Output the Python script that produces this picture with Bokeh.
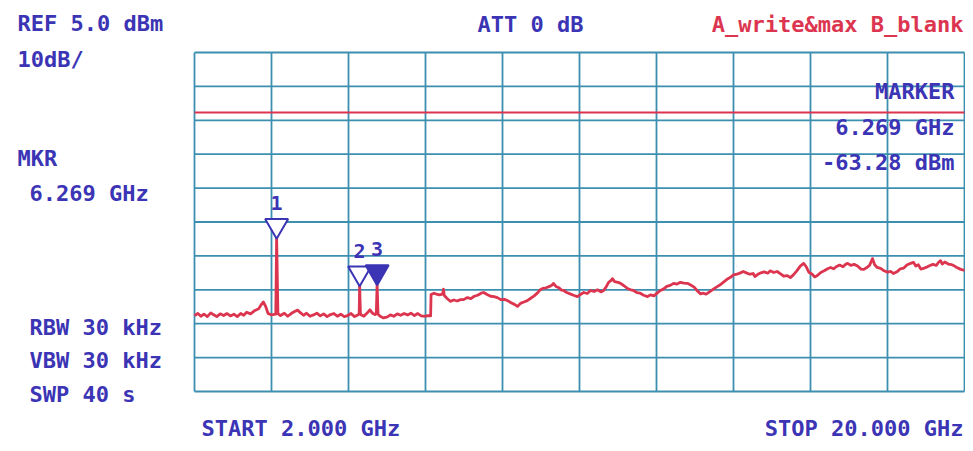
from bokeh.plotting import figure
from bokeh.models import Range1d, ColumnDataSource
from bokeh.embed import file_html
from bokeh.resources import INLINE
from bokeh.core.properties import value

# ---------------- instrument settings ----------------
START_GHZ = 2.0
STOP_GHZ = 20.0
REF_DBM = 5.0
DB_PER_DIV = 10.0
N_DIV = 10
display_line_dbm = -12.7

# ---------------- trace A (write & max) ----------------
freq_ghz = [
    2.00, 2.08, 2.15, 2.22, 2.30, 2.38, 2.44, 2.52, 2.60, 2.68, 2.76, 2.84, 2.92, 3.00,
    3.08, 3.15, 3.22, 3.31, 3.40, 3.50, 3.57, 3.61, 3.66, 3.72, 3.80, 3.90, 3.92, 3.95,
    4.01, 4.10, 4.18, 4.26, 4.34, 4.41, 4.48, 4.55, 4.62, 4.70, 4.78, 4.86, 4.94, 5.02,
    5.10, 5.18, 5.26, 5.34, 5.42, 5.50, 5.58, 5.66, 5.74, 5.82, 5.85, 5.86, 5.88, 5.96,
    6.04, 6.10, 6.16, 6.22, 6.25, 6.269, 6.29, 6.34, 6.42, 6.51, 6.58, 6.66, 6.74, 6.82,
    6.90, 6.98, 7.06, 7.14, 7.22, 7.30, 7.40, 7.45, 7.52, 7.53, 7.60, 7.66, 7.72, 7.80,
    7.82, 7.84, 7.90, 7.98, 8.06, 8.14, 8.22, 8.29, 8.38, 8.46, 8.54, 8.62, 8.70, 8.76,
    8.84, 8.92, 9.00, 9.08, 9.16, 9.24, 9.32, 9.40, 9.48, 9.55, 9.62, 9.70, 9.78, 9.86,
    9.94, 10.02, 10.08, 10.14, 10.22, 10.30, 10.36, 10.39, 10.45, 10.52, 10.58, 10.63,
    10.70, 10.78, 10.86, 10.95, 11.02, 11.10, 11.18, 11.26, 11.34, 11.42, 11.50, 11.56,
    11.62, 11.68, 11.74, 11.77, 11.82, 11.90, 11.96, 12.04, 12.12, 12.20, 12.26, 12.34,
    12.42, 12.50, 12.59, 12.66, 12.74, 12.82, 12.89, 12.96, 13.04, 13.12, 13.20, 13.28,
    13.36, 13.44, 13.52, 13.60, 13.68, 13.76, 13.83, 13.90, 13.96, 14.04, 14.13, 14.20,
    14.28, 14.36, 14.46, 14.52, 14.60, 14.68, 14.76, 14.83, 14.90, 14.98, 15.06, 15.10,
    15.16, 15.24, 15.32, 15.40, 15.46, 15.54, 15.62, 15.70, 15.78, 15.86, 15.93, 16.00,
    16.08, 16.16, 16.24, 16.30, 16.36, 16.44, 16.50, 16.56, 16.64, 16.72, 16.80, 16.87,
    16.94, 17.00, 17.08, 17.16, 17.22, 17.27, 17.34, 17.42, 17.50, 17.58, 17.64, 17.70,
    17.78, 17.85, 17.90, 17.96, 18.04, 18.12, 18.20, 18.28, 18.34, 18.42, 18.50, 18.58,
    18.66, 18.74, 18.81, 18.86, 18.92, 18.98, 19.04, 19.10, 19.18, 19.26, 19.34, 19.40,
    19.44, 19.48, 19.54, 19.62, 19.70, 19.74, 19.82, 19.90, 20.00,
]
level_dbm = [
    -72.6, -72.0, -72.8, -72.2, -72.9, -71.8, -72.3, -72.9, -72.1, -72.6, -72.0, -72.7, -72.2, -72.9,
    -72.0, -72.5, -71.6, -72.1, -71.2, -70.6, -69.2, -68.6, -69.8, -72.0, -72.4, -72.2, -49.6, -72.0,
    -72.6, -71.9, -72.8, -72.0, -71.4, -71.0, -71.8, -72.5, -71.9, -72.8, -72.4, -71.9, -72.7, -72.1,
    -72.9, -72.3, -72.0, -72.8, -72.2, -72.9, -72.6, -72.0, -72.9, -72.4, -72.1, -63.6, -72.3, -72.8,
    -71.8, -70.9, -71.9, -72.3, -72.0, -63.28, -72.2, -72.8, -73.3, -73.0, -72.4, -72.8, -72.1, -72.5,
    -72.0, -72.4, -71.9, -72.6, -72.0, -72.7, -72.8, -72.6, -72.7, -66.4, -66.0, -66.3, -66.5, -66.3,
    -64.8, -66.7, -67.5, -68.4, -68.0, -68.3, -67.9, -67.9, -67.3, -67.6, -66.9, -66.6, -66.0, -65.8,
    -66.4, -66.9, -67.0, -67.3, -67.9, -67.8, -68.2, -68.8, -69.3, -69.9, -69.0, -68.6, -68.2, -67.5,
    -66.8, -65.9, -65.0, -64.6, -64.4, -64.0, -63.6, -63.1, -64.0, -64.4, -65.1, -65.2,
    -65.8, -66.2, -66.6, -67.0, -66.4, -65.8, -66.1, -65.2, -65.5, -65.0, -65.6, -65.3,
    -64.2, -62.8, -62.2, -61.7, -62.6, -62.8, -63.1, -63.8, -64.6, -65.0, -65.2, -65.8,
    -66.0, -66.6, -67.0, -66.5, -66.8, -65.9, -65.2, -64.8, -64.0, -63.7, -63.1, -63.3,
    -62.8, -63.0, -63.1, -63.6, -64.2, -65.4, -66.2, -66.0, -66.3, -65.6, -64.8, -64.2,
    -63.6, -62.8, -61.8, -61.4, -60.6, -60.4, -60.0, -59.6, -60.0, -60.4, -60.2, -61.1,
    -60.5, -60.0, -59.7, -60.1, -59.4, -59.9, -59.6, -60.3, -61.0, -60.8, -61.4, -60.6,
    -59.4, -58.0, -57.2, -58.2, -59.8, -60.4, -61.2, -60.8, -59.9, -59.4, -58.8, -58.4,
    -58.8, -58.2, -57.7, -58.2, -57.5, -57.2, -57.8, -57.5, -58.0, -58.9, -59.0, -58.6,
    -57.8, -55.8, -57.6, -58.4, -58.7, -59.4, -59.8, -59.6, -60.2, -59.7, -58.8, -58.6,
    -57.6, -57.2, -56.9, -58.0, -57.6, -58.9, -58.7, -58.4, -57.9, -57.5, -57.8, -56.8,
    -56.4, -57.4, -56.8, -57.4, -57.6, -57.8, -58.4, -58.9, -59.3,
]

# ---------------- markers ----------------
marker_ids = ["1", "2", "3"]
marker_freq = [3.92, 5.86, 6.269]
marker_level = [-49.6, -63.6, -63.28]
marker_active = [False, False, True]

# ---------------- annotation texts ----------------
ref_text = "REF 5.0 dBm"
scale_text = "10dB/"
att_text = "ATT 0 dB"
trace_mode_text = "A_write&max B_blank"
mkr_left = ["MKR", "6.269 GHz"]
mkr_right = ["MARKER", "6.269 GHz", "-63.28 dBm"]
bw_texts = ["RBW 30 kHz", "VBW 30 kHz", "SWP 40 s"]
start_text = "START 2.000 GHz"
stop_text = "STOP 20.000 GHz"

# ---------------- geometry ----------------
W, H = 965, 443
GX0, GX1 = 194, 964      # graticule left/right on canvas (px)
GY0, GY1 = 52, 391       # graticule top/bottom on canvas (px)
dx = (STOP_GHZ - START_GHZ) / (GX1 - GX0)
dy = (N_DIV * DB_PER_DIV) / (GY1 - GY0)
x0 = START_GHZ - GX0 * dx
y_top = REF_DBM + GY0 * dy


def at(px, py):
    """canvas pixel -> data coordinates"""
    return x0 + px * dx, y_top - py * dy


BLUE = "#3b34b4"
RED = "#dc3550"
GRID = "#3d8fb0"
FONT = value("DejaVu Sans Mono")

p = figure(width=W, height=H, x_range=Range1d(x0, x0 + W * dx),
           y_range=Range1d(y_top - H * dy, y_top), output_backend="svg",
           toolbar_location=None, min_border=0, x_axis_type=None, y_axis_type=None)
p.outline_line_color = None
p.background_fill_color = "white"
p.border_fill_color = "white"

# graticule
bottom_dbm = REF_DBM - N_DIV * DB_PER_DIV
vx = [START_GHZ + i * (STOP_GHZ - START_GHZ) / N_DIV for i in range(N_DIV + 1)]
hy = [REF_DBM - i * DB_PER_DIV for i in range(N_DIV + 1)]
p.segment(x0=vx, x1=vx, y0=[bottom_dbm] * len(vx), y1=[REF_DBM] * len(vx),
          line_color=GRID, line_width=1.8)
p.segment(x0=[START_GHZ] * len(hy), x1=[STOP_GHZ] * len(hy), y0=hy, y1=hy,
          line_color=GRID, line_width=1.8)

# display line
p.line([START_GHZ, STOP_GHZ], [display_line_dbm, display_line_dbm],
       line_color=RED, line_width=2.2)

# trace
p.line(freq_ghz, level_dbm, line_color=RED, line_width=2.8, line_join="round")

# markers
tri_px = 12.0
ms = ColumnDataSource(dict(
    x=marker_freq,
    y=[v + tri_px * dy for v in marker_level],
    ly=[v + 34.5 * dy for v in marker_level],
    t=marker_ids,
    fill=[BLUE if a else "white" for a in marker_active],
))
p.scatter("x", "y", source=ms, marker="inverted_triangle", size=23,
          line_color=BLUE, line_width=2, fill_color="fill")
p.text("x", "ly", text="t", source=ms, text_font=FONT, text_font_size="20px",
       text_font_style="bold", text_color=BLUE, text_align="center",
       text_baseline="middle")


def label(txt, px, py, align="left", color=BLUE, size="22px"):
    x, y = at(px, py)
    p.text([x], [y], text=[txt], text_font=FONT, text_font_size=size,
           text_font_style="bold", text_color=color, text_align=align,
           text_baseline="middle")


label(ref_text, 17, 23)
label(scale_text, 17, 59)
label(mkr_left[0], 17, 158)
label(mkr_left[1], 29, 193)
for t, yy in zip(bw_texts, [327, 360, 394]):
    label(t, 29, yy)
label(start_text, 201, 428)
label(stop_text, 963, 428, align="right")
label(att_text, 477, 24)
label(trace_mode_text, 963, 24, align="right", color=RED)
for t, yy in zip(mkr_right, [91, 127, 162]):
    label(t, 954, yy, align="right")

open("out.html", "w").write(file_html(p, INLINE))
